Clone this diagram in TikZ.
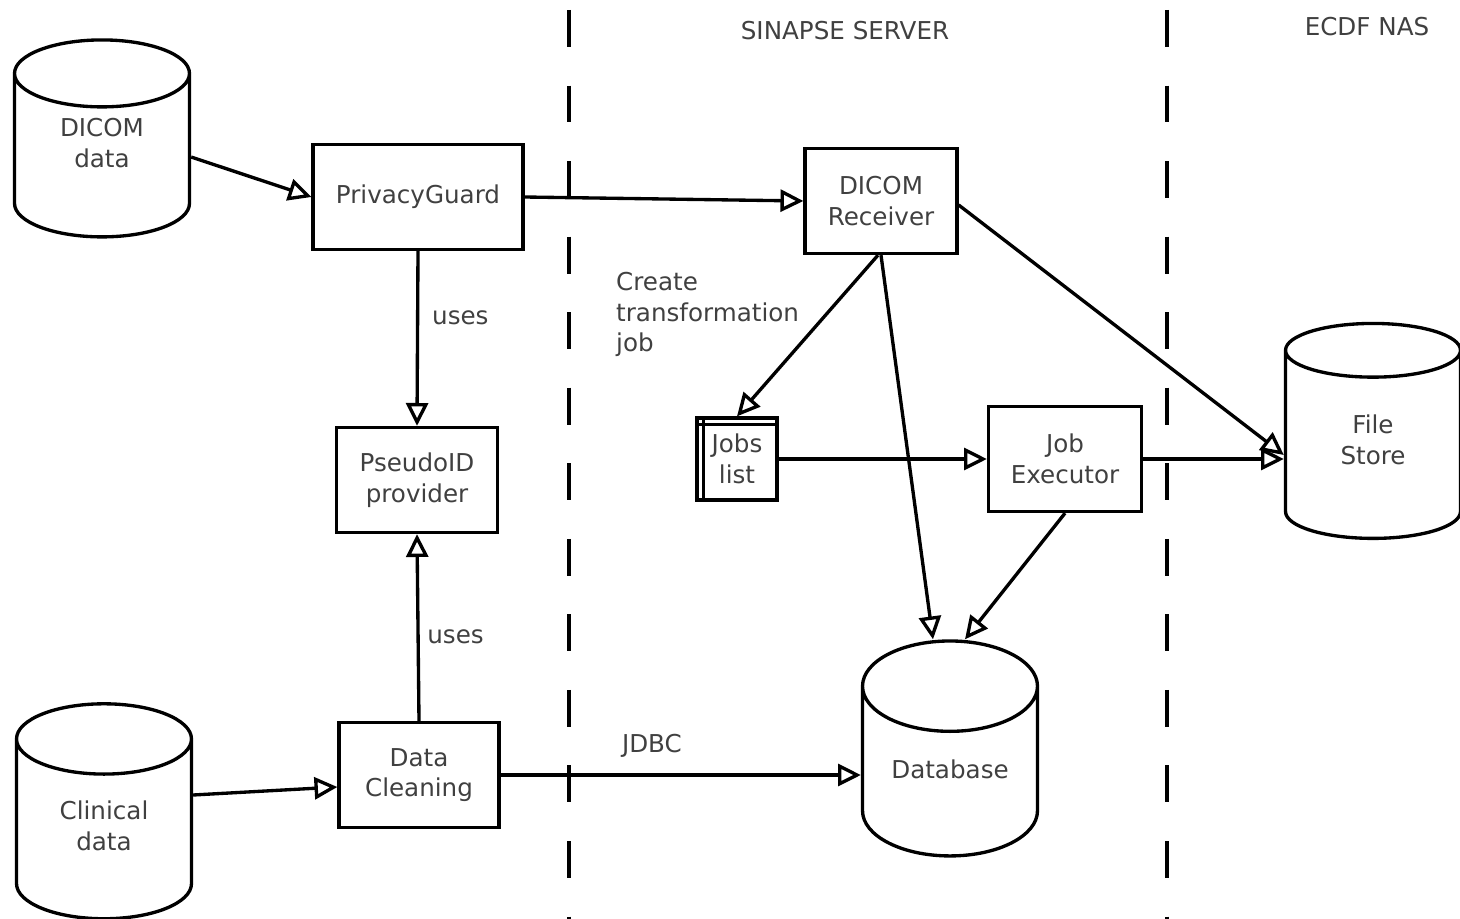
\documentclass[tikz,border=0pt]{standalone}
\usepackage{fontspec}
\setmainfont{DejaVu Sans}
\usetikzlibrary{arrows.meta,calc,positioning,shapes.geometric}

\begin{document}
\begin{tikzpicture}[x=0.02cm, y=-0.02cm, font=\fontsize{14}{17.5}\selectfont,
    box/.style={rectangle, draw, line width=1.9pt, minimum height=2.1cm, align=center, text=black!75},
    store/.style={cylinder, shape border rotate=90, draw, line width=1.9pt, aspect=0.7, minimum width=3.5cm, minimum height=4.3cm, align=center, text=black!75, text depth=12pt},
    jobsbox/.style={box, minimum width=1.6cm, minimum height=1.64cm, inner sep=1pt,
        path picture={\draw[line width=1.5pt] ([xshift=3.6pt]path picture bounding box.north west) -- ([xshift=3.6pt]path picture bounding box.south west);
                      \draw[line width=1.5pt] ([yshift=-3.6pt]path picture bounding box.north west) -- ([yshift=-3.6pt]path picture bounding box.north east);}},
    lbl/.style={text=black!75, align=left},
    flow/.style={-{Triangle[open, length=13pt, width=12.5pt]}, line width=1.9pt},
    divider/.style={line width=1.9pt, dash pattern=on 21pt off 22pt}]
    \useasboundingbox (0,0) rectangle (1460,919);

    % zones
    \draw[divider] (569,10) -- (569,919);
    \draw[divider] (1167,10) -- (1167,919);
    \node[lbl] (sinapse) at (845,31) {SINAPSE SERVER};
    \node[lbl] (ecdf) at (1367,27) {ECDF NAS};

    % data stores
    \node[store, minimum height=3.94cm, text depth=22pt] (dicom) at (102,162) {DICOM\\data};
    \node[store] (clinical) at (104,836) {Clinical\\data};
    \node[store] (fstore) at (1373,450) {File\\Store};
    \node[store] (db) at (950,780) {Database};

    % components
    \node[box, minimum width=4.2cm] (pguard) at (418,197) {PrivacyGuard};
    \node[box, minimum width=3.22cm] (pseudo) at (417,480) {PseudoID\\provider};
    \node[box, minimum width=3.2cm] (clean) at (419,775) {Data\\Cleaning};
    \node[box, minimum width=3.04cm] (recv) at (881,201) {DICOM\\Receiver};
    \node[jobsbox] (jobs) at (737,459) {Jobs\\list};
    \node[box, minimum width=3.06cm] (exec) at (1065,459) {Job\\Executor};

    \draw[flow] ($(dicom.east)+(0,-5)$) -- (pguard.west);
    \draw[flow] (pguard.east) -- (recv.west);
    \draw[flow] (pguard.south) -- node[lbl, right=4pt, pos=0.38] (uses1) {uses} (pseudo.north);
    \draw[flow] (clean.north) -- node[lbl, right=1pt, pos=0.45] (uses2) {uses} (pseudo.south);
    \draw[flow] ($(clinical.east)+(0,-41)$) -- ($(clean.west)+(0,12)$);
    \draw[flow] (clean.east) -- node[lbl, above=6pt, pos=0.42] (jdbc) {JDBC} (clean.east -| db.west);
    \draw[flow] ($(recv.south)+(-3,0)$) -- (jobs.north);
    \draw[flow] (recv.south) -- ($(db.north)+(-17,0)$);
    \draw[flow] ($(recv.east)+(0,4)$) -- ($(fstore.west)+(0,5)$);
    \draw[flow] (jobs.east) -- (exec.west);
    \draw[flow] (exec.east) -- (exec.east -| fstore.west);
    \draw[flow] (exec.south) -- ($(db.north)+(15,0)$);
    \node[lbl, anchor=north west] (create) at (610,266) {Create\\transformation\\job};
\end{tikzpicture}
\end{document}
